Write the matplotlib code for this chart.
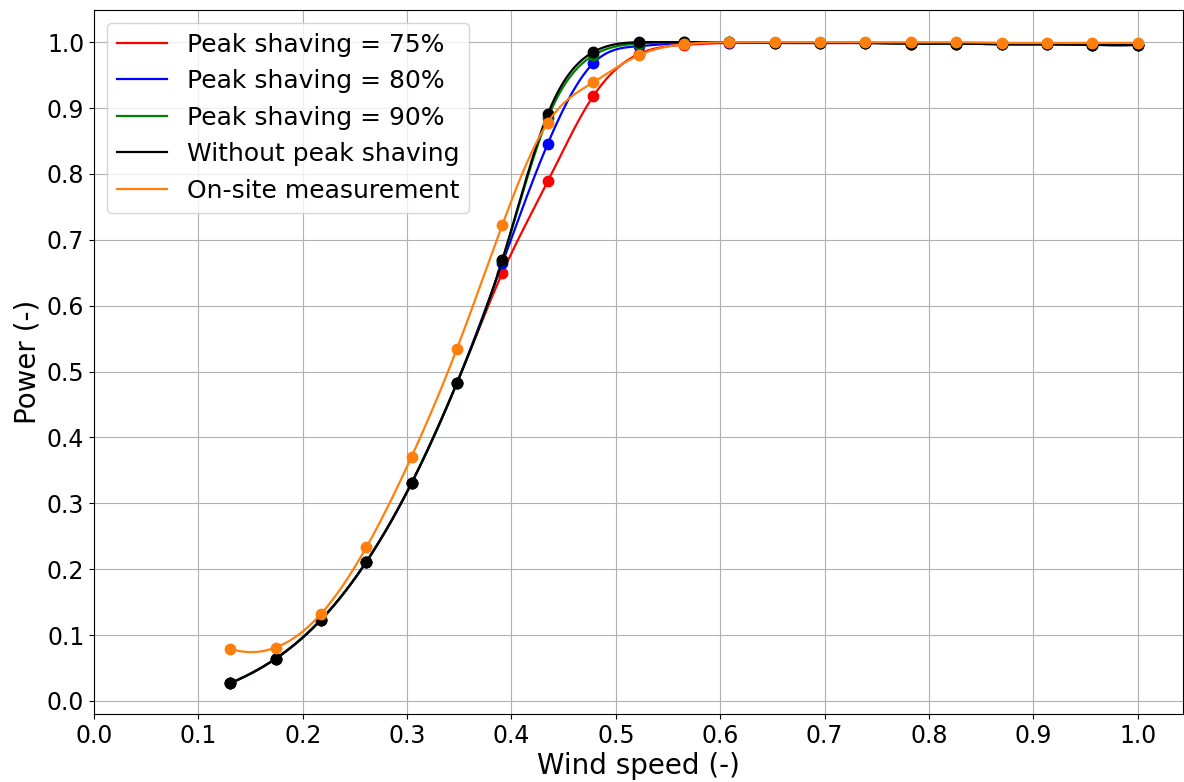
import numpy as np
import matplotlib
matplotlib.use("Agg")
import matplotlib.pyplot as plt

# Normalised wind speed sample points
wind_speed = [3/23, 4/23, 5/23, 6/23, 7/23, 8/23, 9/23, 10/23, 11/23, 12/23, 13/23,
              14/23, 15/23, 16/23, 17/23, 18/23, 19/23, 20/23, 21/23, 22/23, 23/23]

# Normalised power curves
power_ps75 = [0.027, 0.064, 0.123, 0.211, 0.331, 0.483, 0.650, 0.789, 0.918, 0.982, 0.996,
              0.999, 0.999, 0.999, 0.999, 0.998, 0.998, 0.997, 0.997, 0.996, 0.996]
power_ps80 = [0.027, 0.064, 0.123, 0.211, 0.331, 0.483, 0.665, 0.846, 0.968, 0.994, 0.999,
              0.999, 0.999, 0.999, 0.999, 0.998, 0.998, 0.997, 0.997, 0.996, 0.996]
power_ps90 = [0.027, 0.064, 0.123, 0.211, 0.331, 0.483, 0.669, 0.885, 0.980, 0.998, 1.000,
              1.000, 0.999, 0.999, 0.999, 0.998, 0.998, 0.997, 0.997, 0.996, 0.996]
power_nops = [0.027, 0.064, 0.123, 0.211, 0.331, 0.483, 0.670, 0.891, 0.985, 1.000, 1.000,
              1.000, 0.999, 0.999, 0.999, 0.998, 0.998, 0.997, 0.997, 0.996, 0.996]
power_site = [0.079, 0.081, 0.132, 0.233, 0.371, 0.535, 0.723, 0.878, 0.939, 0.980, 0.997,
              1.000, 1.000, 1.000, 1.000, 1.000, 1.000, 0.999, 0.999, 0.999, 0.999]

labels = ["Peak shaving = 75%", "Peak shaving = 80%", "Peak shaving = 90%",
          "Without peak shaving", "On-site measurement"]
colors = ["red", "blue", "green", "black", "#ff7f0e"]


def cubic_spline(x, y, xs):
    """Not-a-knot cubic spline through (x, y), evaluated at xs."""
    x = np.asarray(x, float)
    y = np.asarray(y, float)
    n = len(x)
    h = np.diff(x)
    A = np.zeros((n, n))
    b = np.zeros(n)
    A[0, 0], A[0, 1], A[0, 2] = -h[1], h[0] + h[1], -h[0]
    A[-1, -3], A[-1, -2], A[-1, -1] = -h[-1], h[-2] + h[-1], -h[-2]
    for i in range(1, n - 1):
        A[i, i - 1] = h[i - 1]
        A[i, i] = 2 * (h[i - 1] + h[i])
        A[i, i + 1] = h[i]
        b[i] = 6 * ((y[i + 1] - y[i]) / h[i] - (y[i] - y[i - 1]) / h[i - 1])
    M = np.linalg.solve(A, b)
    idx = np.clip(np.searchsorted(x, xs) - 1, 0, n - 2)
    x0, x1 = x[idx], x[idx + 1]
    hh = x1 - x0
    return (M[idx] * (x1 - xs) ** 3 / (6 * hh) + M[idx + 1] * (xs - x0) ** 3 / (6 * hh)
            + (y[idx] / hh - M[idx] * hh / 6) * (x1 - xs)
            + (y[idx + 1] / hh - M[idx + 1] * hh / 6) * (xs - x0))


fig = plt.figure(figsize=(11.84, 7.82), dpi=100)
ax = fig.add_axes([0.0794, 0.087, 0.9198, 0.900])

xs = np.linspace(wind_speed[0], wind_speed[-1], 600)
for series, label, color in zip([power_ps75, power_ps80, power_ps90, power_nops, power_site],
                                labels, colors):
    ax.plot(xs, cubic_spline(wind_speed, series, xs), color=color, lw=1.6, label=label)
    ax.plot(wind_speed, series, "o", color=color, ms=7.5)

ax.set_xlim(0, 1.0435)
ax.set_ylim(-0.0198, 1.0487)
ax.set_xticks(np.arange(0, 1.01, 0.1))
ax.set_yticks(np.arange(0, 1.01, 0.1))
ax.tick_params(labelsize=17)
ax.grid(True, color="#b0b0b0", lw=0.8)
ax.set_xlabel("Wind speed (-)", fontsize=20, labelpad=3)
ax.set_ylabel("Power (-)", fontsize=20)
ax.legend(loc="upper left", fontsize=18)

fig.savefig("out.png", dpi=100)
